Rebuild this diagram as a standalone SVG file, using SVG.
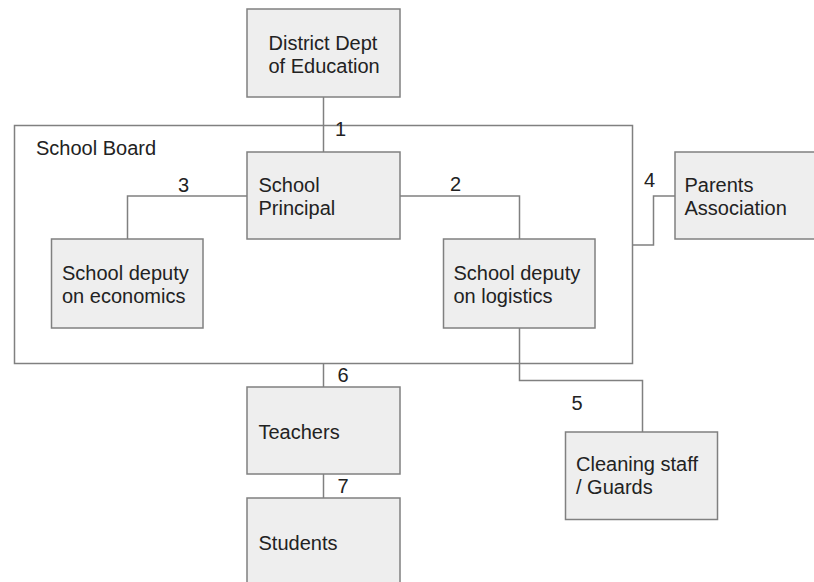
<svg xmlns="http://www.w3.org/2000/svg" width="814" height="582" viewBox="0 0 814 582">
<style>
.box{fill:#eeeeee;stroke:#808080;stroke-width:1.5}
.frame{fill:none;stroke:#808080;stroke-width:1.5}
.ln{fill:none;stroke:#808080;stroke-width:1.5}
text{font-family:"Liberation Sans",Arial,sans-serif;font-size:20px;fill:#222222}
</style>
<rect width="814" height="582" fill="#ffffff"/>
<g id="school-board">
<rect class="frame" x="14.5" y="125.5" width="618" height="238"/>
<text x="36" y="155">School Board</text>
</g>
<g id="connectors">
<path class="ln" d="M323.5,97 V152"/>
<path class="ln" d="M247,196 H127.5 V239"/>
<path class="ln" d="M400,196 H519.5 V239"/>
<path class="ln" d="M632.5,245 H653.5 V196 H675"/>
<path class="ln" d="M519.5,328 V380.5 H642.5 V432"/>
<path class="ln" d="M323.5,363 V387"/>
<path class="ln" d="M323.5,474 V498"/>
<text x="335" y="136">1</text>
<text x="450" y="191">2</text>
<text x="178" y="192">3</text>
<text x="644" y="186.5">4</text>
<text x="571.5" y="410">5</text>
<text x="337.5" y="382">6</text>
<text x="337.5" y="492.5">7</text>
</g>
<g id="district">
<rect class="box" x="247" y="9" width="153" height="88"/>
<text x="268.5" y="50">District Dept</text>
<text x="268.5" y="73">of Education</text>
</g>
<g id="principal">
<rect class="box" x="247" y="152" width="153" height="87"/>
<text x="258.5" y="192">School</text>
<text x="258.5" y="215">Principal</text>
</g>
<g id="deputy-economics">
<rect class="box" x="51.5" y="239" width="151.5" height="89"/>
<text x="62" y="280">School deputy</text>
<text x="62" y="303">on economics</text>
</g>
<g id="deputy-logistics">
<rect class="box" x="443.5" y="239" width="151.5" height="89"/>
<text x="453.5" y="280">School deputy</text>
<text x="453.5" y="303">on logistics</text>
</g>
<g id="parents">
<rect class="box" x="675" y="152" width="150" height="87"/>
<text x="684.5" y="192">Parents</text>
<text x="684.5" y="215">Association</text>
</g>
<g id="cleaning">
<rect class="box" x="565.5" y="432" width="152" height="87.5"/>
<text x="576" y="471">Cleaning staff</text>
<text x="576" y="494">/ Guards</text>
</g>
<g id="teachers">
<rect class="box" x="247" y="387" width="153" height="87"/>
<text x="258.5" y="438.5">Teachers</text>
</g>
<g id="students">
<rect class="box" x="247" y="498" width="153" height="100"/>
<text x="258.5" y="549.5">Students</text>
</g>
</svg>
